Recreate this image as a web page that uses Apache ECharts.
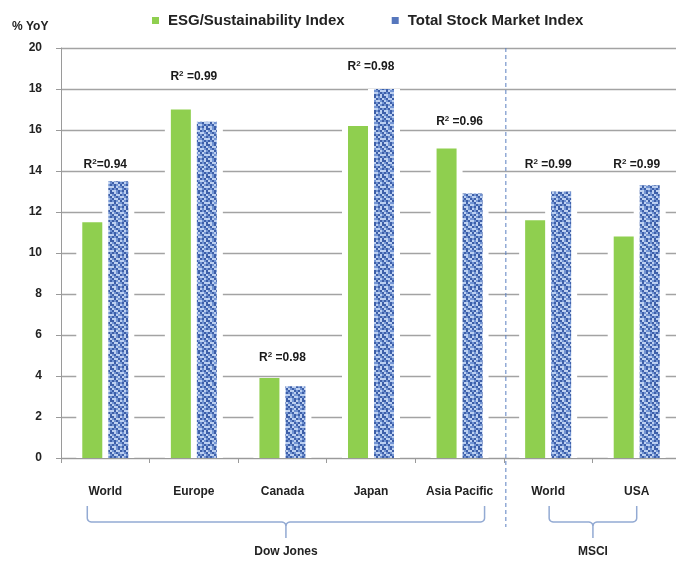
<!DOCTYPE html>
<html>
<head>
<meta charset="utf-8">
<script src="https://cdn.jsdelivr.net/npm/echarts@6/dist/echarts.min.js"></script>
<style>
html,body{margin:0;padding:0;background:#fff;overflow:hidden;}
#chart{width:700px;height:561px;}
</style>
</head>
<body>
<div id="chart"></div>
<script>
// ---- data ----
const categories = ['World', 'Europe', 'Canada', 'Japan', 'Asia Pacific', 'World', 'USA'];
const esgIndex = [11.5, 17.0, 3.9, 16.2, 15.1, 11.6, 10.8];
const totalMarketIndex = [13.5, 16.4, 3.5, 18.0, 12.9, 13.0, 13.3];
const r2Values = ['0.94', '0.99', '0.98', '0.98', '0.96', '0.99', '0.99'];
const r2Sep = ['=', ' =', ' =', ' =', ' =', ' =', ' ='];
const r2LabelAt = [14.3, 18.6, 4.9, 19.1, 16.4, 14.3, 14.3];
const yTicks = { min: 0, max: 20, interval: 2 };
const groups = [
  { name: 'Dow Jones', from: 0, to: 4 },
  { name: 'MSCI', from: 5, to: 6 }
];

// ---- styles ----
const FONT = '"Liberation Sans", Arial, sans-serif';
const GREEN = '#8fcf4f';

function makeTile() {
  const rows = [
    'DLMDLMLD',
    'MDLLDMDL',
    'LMDMLLMD',
    'DLLDMDLM',
    'MDMLDLMD',
    'LDLMMDLL',
    'DMDLLMDM',
    'LLMDMDLD'
  ];
  const pal = { D: '#3d5fa9', M: '#7193d2', L: '#bdd0f0' };
  const s = 2;
  const c = document.createElement('canvas');
  c.width = 8 * s; c.height = 8 * s;
  const ctx = c.getContext('2d');
  rows.forEach((r, y) => {
    for (let x = 0; x < r.length; x++) {
      ctx.fillStyle = pal[r[x]];
      ctx.fillRect(x * s, y * s, s, s);
    }
  });
  return c;
}
const blueFill = { image: makeTile(), repeat: 'repeat' };

const chart = echarts.init(document.getElementById('chart'), null, { renderer: 'canvas' });

const grid = { left: 61, top: 48, width: 620, height: 410 };

chart.setOption({
  animation: false,
  backgroundColor: '#fff',
  legend: {
    left: 147, top: 8,
    itemWidth: 7, itemHeight: 7, itemGap: 47,
    icon: 'rect',
    textStyle: { fontFamily: FONT, fontWeight: 'bold', fontSize: 15, color: '#222', padding: [0, 0, 0, 4] },
    data: [
      { name: 'ESG/Sustainability Index', itemStyle: { color: GREEN } },
      { name: 'Total Stock Market Index', itemStyle: { color: '#5677bd' } }
    ]
  },
  grid: grid,
  xAxis: [
    {
      type: 'category', data: categories, z: 5,
      axisLine: { lineStyle: { color: '#9a9a9a', width: 1 } },
      axisTick: { show: true, length: 5, interval: 0, lineStyle: { color: '#9a9a9a' } },
      axisLabel: { interval: 0, margin: 28, fontFamily: FONT, fontWeight: 'bold', fontSize: 12, color: '#222' },
      splitLine: { show: false }
    },
    {
      type: 'category', data: categories, show: false, gridIndex: 0
    }
  ],
  yAxis: {
    type: 'value', min: yTicks.min, max: yTicks.max, interval: yTicks.interval,
    axisLine: { show: true, lineStyle: { color: '#9a9a9a', width: 1 } },
    axisTick: { show: true, length: 5, lineStyle: { color: '#9a9a9a' } },
    axisLabel: { margin: 19, fontFamily: FONT, fontWeight: 'bold', fontSize: 12, color: '#222' },
    splitLine: { show: true, lineStyle: { color: '#a3a3a3', width: 1.3 } }
  },
  series: [
    { type: 'bar', xAxisIndex: 1, data: esgIndex, barWidth: 32, barGap: '-18.75%', z: 1,
      itemStyle: { color: '#fff' }, silent: true, legendHoverLink: false },
    { type: 'bar', xAxisIndex: 1, data: totalMarketIndex, barWidth: 32, barGap: '-18.75%', z: 1,
      itemStyle: { color: '#fff' }, silent: true, legendHoverLink: false },
    { name: 'ESG/Sustainability Index', type: 'bar', xAxisIndex: 0, data: esgIndex,
      barWidth: 20, barGap: '30%', z: 3, itemStyle: { color: GREEN } },
    { name: 'Total Stock Market Index', type: 'bar', xAxisIndex: 0, data: totalMarketIndex,
      barWidth: 20, barGap: '30%', z: 3, itemStyle: { color: blueFill } },
    { type: 'scatter', xAxisIndex: 0, symbolSize: 0, itemStyle: { color: 'rgba(0,0,0,0)' }, z: 4,
      data: r2LabelAt.map((v, i) => [i, v]),
      label: { show: true, position: 'inside',
        formatter: p => 'R{s|2}' + r2Sep[p.dataIndex] + r2Values[p.dataIndex],
        fontFamily: FONT, fontWeight: 'bold', fontSize: 12, color: '#1a1a1a',
        textBorderWidth: 0, opacity: 1,
        rich: { s: { fontFamily: FONT, fontWeight: 'bold', fontSize: 8, color: '#1a1a1a',
          padding: [0, 0, 6, 0], textBorderWidth: 0 } } } }
  ]
});

function px(i) { return chart.convertToPixel({ xAxisIndex: 0 }, i); }
const graphics = [];
graphics.push({ type: 'text', x: 12, y: 27,
  style: { text: '% YoY', fontFamily: FONT, fontWeight: 'bold', fontSize: 12, fill: '#222',
    textVerticalAlign: 'middle' } });

const sepX = (px(4) + px(5)) / 2 + 2;
graphics.push({ type: 'line', z: 6,
  shape: { x1: sepX, y1: grid.top, x2: sepX, y2: 527 },
  style: { stroke: '#5b7fc0', lineWidth: 1, lineDash: [4, 3] } });

function arcPts(cx, cy, r, a0, a1) {
  const pts = [];
  for (let k = 0; k <= 6; k++) {
    const a = a0 + (a1 - a0) * k / 6;
    pts.push([cx + r * Math.cos(a), cy + r * Math.sin(a)]);
  }
  return pts;
}
const braceOffsets = [[-18, 25], [1, 0]];
groups.forEach((g, k) => {
  const x1 = px(g.from) + braceOffsets[k][0];
  const x2 = px(g.to) + braceOffsets[k][1];
  const xm = (x1 + x2) / 2;
  const yT = 506, yH = 522, yB = 538, r = 4, P = Math.PI;
  let pts = [[x1, yT]];
  pts = pts.concat(arcPts(x1 + r, yH - r, r, P, P / 2));
  pts = pts.concat(arcPts(xm - r, yH + r, r, -P / 2, 0));
  pts.push([xm, yB]);
  graphics.push({ type: 'polyline', shape: { points: pts },
    style: { fill: null, stroke: '#93aad3', lineWidth: 1.5 } });
  let pts2 = [[x2, yT]];
  pts2 = pts2.concat(arcPts(x2 - r, yH - r, r, 0, P / 2));
  pts2 = pts2.concat(arcPts(xm + r, yH + r, r, -P / 2, -P));
  graphics.push({ type: 'polyline', shape: { points: pts2 },
    style: { fill: null, stroke: '#93aad3', lineWidth: 1.5 } });
  graphics.push({ type: 'text', x: xm, y: 552,
    style: { text: g.name, fontFamily: FONT, fontWeight: 'bold', fontSize: 12, fill: '#222',
      textAlign: 'center', textVerticalAlign: 'middle' } });
});
chart.setOption({ graphic: graphics });
</script>
</body>
</html>
